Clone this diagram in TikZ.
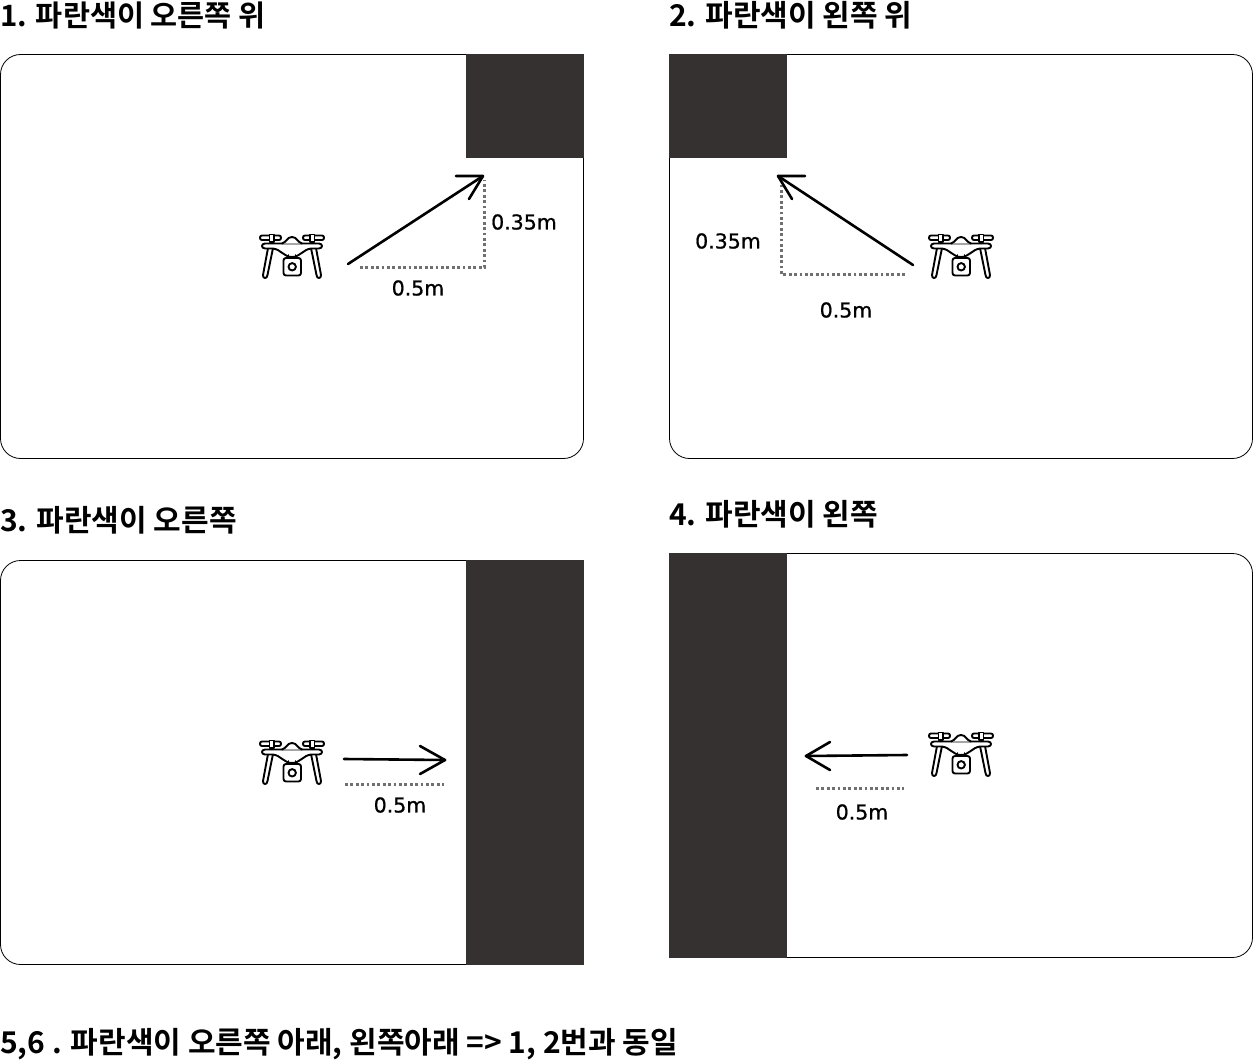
\documentclass[tikz,border=0pt]{standalone}
\usepackage{fontspec}
\setmainfont{Noto Sans CJK KR}
\newfontfamily\headfont[BoldFont=Noto Sans CJK KR Bold]{Noto Sans CJK KR}
\newfontfamily\labfont[FakeBold=0.8]{DejaVu Sans}
\definecolor{darkwall}{HTML}{353130}
\definecolor{dotgrey}{HTML}{707070}
\tikzset{
  x=1pt,y=-1pt,
  panel/.style={draw=black,line width=0.8pt,fill=white,rounded corners=20pt},
  wall/.style={fill=darkwall,draw=none},
  head/.style={inner sep=0pt,anchor=west,font=\headfont\bfseries\fontsize{30}{30}\selectfont},
  lab/.style={inner sep=0pt,font=\labfont\fontsize{20.5}{22}\selectfont},
  move/.style={draw=black,line width=2.6pt,line cap=round,line join=round},
  tipline/.style={draw=black,line width=2.6pt,line cap=round,line join=round},
  measure/.style={draw=dotgrey,line width=3pt,dash pattern=on 2.8pt off 2.6pt},
  dronepart/.style={draw=black,line width=1.9pt,line cap=round,line join=round,fill=white},
  pics/drone/.style={code={
    % legs
    \draw[dronepart] (-24,-8) -- (-29,19) .. controls (-29.5,23) and (-24.5,23) .. (-24.5,19) -- (-19,-8);
    \draw[dronepart] (24,-8) -- (29,19) .. controls (29.5,23) and (24.5,23) .. (24.5,19) -- (19,-8);
    % body bar
    \draw[dronepart] (-27,-12.5) -- (27,-12.5) .. controls (31,-12.5) and (31,-7.5) .. (27,-7.5) -- (19,-7.5)
      .. controls (11,-6.5) and (8,1) .. (0,1) .. controls (-8,1) and (-11,-6.5) .. (-19,-7.5) -- (-27,-7.5)
      .. controls (-31,-7.5) and (-31,-12.5) .. (-27,-12.5) -- cycle;
    % dome
    \draw[dronepart] (-10,-12.5) .. controls (-5,-14) and (-5,-19) .. (0,-19) .. controls (5,-19) and (5,-14) .. (10,-12.5);
    % rotors
    \draw[dronepart] (-20,-12.5) -- (-20,-18);
    \draw[dronepart] (20,-12.5) -- (20,-18);
    \draw[dronepart,rounded corners=2pt] (-32,-20.5) rectangle (-11,-16);
    \draw[dronepart,rounded corners=2pt] (11,-20.5) rectangle (32,-16);
    \draw[dronepart] (-22.5,-21.5) rectangle (-18,-14);
    \draw[dronepart] (18,-21.5) rectangle (22.5,-14);
    % camera
    \draw[dronepart] (-3.5,-1) -- (-3.5,2) (3.5,-1) -- (3.5,2);
    \draw[dronepart,rounded corners=2.5pt] (-8.5,2) rectangle (9,19.5);
    \draw[dronepart] (0.2,10.8) circle (3.7);
  }}
}
\begin{document}
\begin{tikzpicture}
\useasboundingbox (0,0) rectangle (1253,1062);
% headings
\node[head,font=\headfont\bfseries\fontsize{29.4}{30}\selectfont] (h1) at (0,15) {1. 파란색이 오른쪽 위};
\node[head] (h2) at (669,15) {2. 파란색이 왼쪽 위};
\node[head] (h3) at (0,520) {3. 파란색이 오른쪽};
\node[head] (h4) at (669,514) {4. 파란색이 왼쪽};
\node[head] (h5) at (0,1044) {5,6 . 파란색이 오른쪽 아래, 왼쪽아래 => 1, 2번과 동일};
% panels
\draw[panel] (0.5,54.5) rectangle (583.5,458.5);
\draw[panel] (669.5,54.5) rectangle (1252.5,458.5);
\draw[panel] (0.5,560.5) rectangle (583.5,964.5);
\draw[panel] (669.5,553.5) rectangle (1252.5,957.5);
% walls
\fill[wall] (466,54) rectangle (584,158);
\fill[wall] (669,54) rectangle (787,158);
\fill[wall] (466,560) rectangle (584,965);
\fill[wall] (669,553) rectangle (787,958);
% drones
\pic at (292,256) {drone};
\pic at (961,256) {drone};
\pic at (292,762) {drone};
\pic at (961,754) {drone};
% panel 1
\coordinate (a1s) at (348,264);
\coordinate (a1e) at (483,176);
\coordinate (a1c) at (484.5,267.5);
\draw[measure] (360,267.5) -- (a1c) -- (484.5,180);
\draw[move] (a1s) -- (a1e);
\draw[tipline] (456,176) -- (a1e) -- (469,199);
\node[lab] (l1a) at (524,222) {0.35m};
\node[lab] (l1b) at (418,288) {0.5m};
% panel 2
\coordinate (a2s) at (913,265);
\coordinate (a2e) at (778,176);
\coordinate (a2c) at (781.5,274.5);
\draw[measure] (905,274.5) -- (a2c) -- (781.5,182);
\draw[move] (a2s) -- (a2e);
\draw[tipline] (805,176) -- (a2e) -- (792,199);
\node[lab] (l2a) at (728,241) {0.35m};
\node[lab] (l2b) at (846,310) {0.5m};
% panel 3
\coordinate (a3s) at (344,759);
\coordinate (a3e) at (445,760);
\draw[move] (a3s) -- (a3e);
\draw[tipline] (420,746) -- (a3e) -- (420,774);
\coordinate (m3s) at (345,784.5);
\coordinate (m3e) at (444,784.5);
\draw[measure] (m3s) -- (m3e);
\node[lab] (l3) at (400,805) {0.5m};
% panel 4
\coordinate (a4s) at (907,755);
\coordinate (a4e) at (806,756);
\draw[move] (a4s) -- (a4e);
\draw[tipline] (830,742) -- (a4e) -- (830,770);
\coordinate (m4s) at (816,788.5);
\coordinate (m4e) at (904,788.5);
\draw[measure] (m4s) -- (m4e);
\node[lab] (l4) at (862,812) {0.5m};
\end{tikzpicture}
\end{document}
